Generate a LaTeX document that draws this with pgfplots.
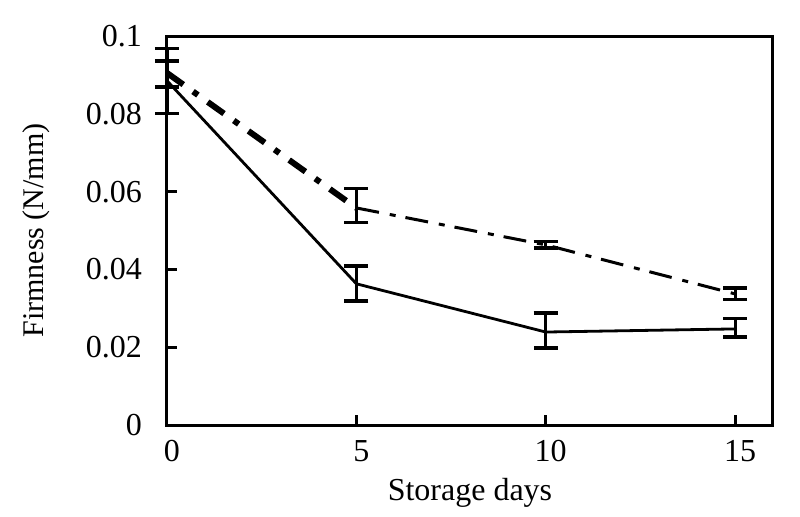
\documentclass[border=0pt]{standalone}
\usepackage{pgfplots}
\pgfplotsset{compat=1.18}
\usepackage{pgfplotstable}
\usepackage{fontspec}
\setmainfont{Liberation Serif}
\newcommand\fs{\fontsize{16pt}{19pt}\selectfont}
\newcommand\fsy{\fontsize{15pt}{18pt}\selectfont}
\pgfplotstableread{
x y ep em
0 0.0885 0.0051 0.0085
5 0.0363 0.0046 0.0044
10 0.0239 0.0049 0.0041
15 0.0247 0.0026 0.0021
}\solid
\pgfplotstableread{
x y ep em
0 0.0905 0.0062 0.0036
5 0.0558 0.0049 0.0038
10 0.0463 0.0008 0.0008
15 0.0337 0.0015 0.0015
}\dashdot
\pgfplotstableread{
x y
0 0.0905
5 0.0558
}\dashdotA
\pgfplotstableread{
x y
5 0.0558
10 0.0463
15 0.0337
}\dashdotB
\begin{document}
\begin{tikzpicture}
\useasboundingbox (-83.5pt,-45.5pt) rectangle (316.5pt,212.5pt);
\begin{axis}[
  at={(0,0)}, anchor=south west,
  scale only axis, width=303pt, height=194.5pt,
  xmin=0, xmax=16, ymin=0, ymax=0.1,
  xtick={0,5,10,15},
  ytick={0,0.02,0.04,0.06,0.08,0.1},
  yticklabels={0,0.02,0.04,0.06,0.08,0.1},
  scaled y ticks=false,
  tick pos=left,
  tick align=inside, major tick length=5pt,
  axis line style={line width=1.5pt},
  tick style={line width=1.5pt, black},
  tick label style={font=\fs},
  /pgf/number format/assume math mode=true,
  yticklabel style={xshift=-9pt},
  xticklabel style={yshift=-4pt, xshift=2.5pt},
  xlabel={Storage days}, ylabel={Firmness (N/mm)},
  xlabel style={font=\fs, at={(axis description cs:0.5,0)}, anchor=center, yshift=-34pt},
  ylabel style={font=\fsy, at={(axis description cs:0,0.5)}, anchor=center, yshift=65.5pt},
  clip=false,
]
\addplot[black, line width=1.4pt, mark=none] table[x=x,y=y] {\solid};
\addplot[black, line width=3pt, mark=none, dash pattern=on 10pt off 6pt on 3pt off 6pt] table[x=x,y=y] {\dashdotA};
\addplot[black, line width=1.5pt, mark=none, dash pattern=on 11.5pt off 5.5pt on 3pt off 5pt] table[x=x,y=y] {\dashdotB};
\addplot[draw=none, mark=none, forget plot,
  error bars/.cd, y dir=both, y explicit,
  error bar style={line width=1.6pt, black},
  error mark options={rotate=90, line width=1.6pt, mark size=6pt, black}]
  table[x=x,y=y,y error plus=ep,y error minus=em] {\solid};
\addplot[draw=none, mark=none, forget plot,
  error bars/.cd, y dir=both, y explicit,
  error bar style={line width=1.6pt, black},
  error mark options={rotate=90, line width=1.6pt, mark size=6pt, black}]
  table[x=x,y=y,y error plus=ep,y error minus=em] {\dashdot};
\end{axis}
\end{tikzpicture}
\end{document}
